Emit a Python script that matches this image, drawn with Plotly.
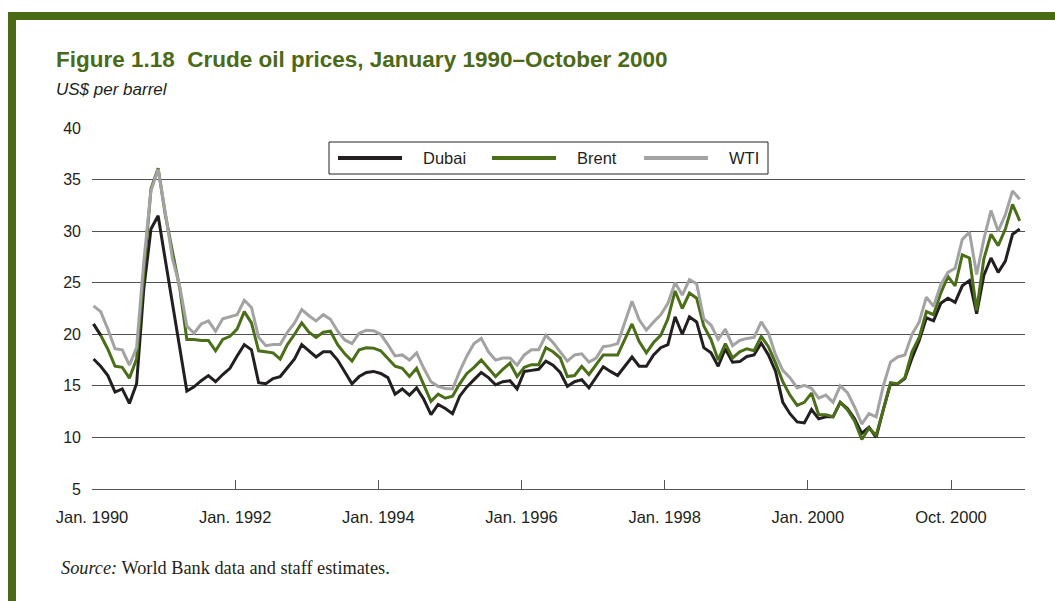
import plotly.graph_objects as go

# ---------------- data (US$ per barrel, monthly, Jan 1990 - Oct 2000) ----------------
dubai = [17.6, 16.9, 16.0, 14.4, 14.7, 13.3, 15.2, 24.4, 30.2, 31.5,
         27.2, 22.9, 18.6, 14.5, 14.9, 15.5, 16.0, 15.4, 16.1, 16.7,
         17.9, 19.0, 18.5, 15.3, 15.2, 15.7, 15.9, 16.8, 17.6, 19.0,
         18.4, 17.8, 18.3, 18.3, 17.5, 16.4, 15.2, 15.9, 16.3, 16.4,
         16.2, 15.8, 14.2, 14.7, 14.1, 14.8, 13.7, 12.2, 13.2, 12.8,
         12.3, 14.0, 14.9, 15.6, 16.3, 15.8, 15.1, 15.4, 15.5, 14.7,
         16.4, 16.5, 16.6, 17.4, 17.0, 16.3, 14.95, 15.4, 15.6, 14.8,
         15.8, 16.85, 16.4, 16.0, 16.9, 17.8, 16.9, 16.9, 18.0, 18.7,
         19.0, 21.7, 20.0, 21.7, 21.2, 18.7, 18.2, 16.9, 18.6, 17.3,
         17.35, 17.85, 18.0, 19.15, 18.0, 16.4, 13.4, 12.3, 11.5, 11.4,
         12.7, 11.8, 12.0, 12.0, 13.4, 12.8, 11.8, 10.4, 11.0, 10.0,
         12.7, 15.2, 15.2, 15.7, 17.7, 19.4, 21.6, 21.3, 23.0, 23.5,
         23.1, 24.7, 25.2, 22.0, 25.7, 27.4, 26.0, 27.1, 29.7, 30.2]

brent = [21.0, 19.9, 18.55, 16.9, 16.8, 15.75, 17.6, 26.0, 34.1, 36.1,
         31.6, 28.0, 24.5, 19.5, 19.5, 19.4, 19.4, 18.4, 19.5, 19.8,
         20.5, 22.2, 21.1, 18.4, 18.3, 18.2, 17.6, 19.0, 20.0, 21.1,
         20.2, 19.7, 20.2, 20.3, 19.0, 18.1, 17.4, 18.5, 18.7, 18.65,
         18.4, 17.6, 16.9, 16.7, 15.9, 16.7, 15.1, 13.5, 14.2, 13.8,
         14.0, 15.2, 16.2, 16.8, 17.5, 16.7, 15.9, 16.6, 17.2, 15.9,
         16.8, 17.05, 17.05, 18.7, 18.3, 17.7, 15.9, 16.0, 16.9, 16.1,
         17.0, 18.0, 18.0, 18.0, 19.5, 21.0, 19.3, 18.2, 19.2, 19.9,
         21.5, 24.2, 22.5, 24.0, 23.5, 20.8, 19.5, 17.5, 19.1, 17.7,
         18.3, 18.6, 18.4, 19.8, 18.8, 17.2, 15.4, 14.1, 13.1, 13.4,
         14.3, 12.2, 12.2, 12.0, 13.4, 12.7, 11.6, 9.8, 10.9, 10.2,
         12.7, 15.3, 15.2, 15.8, 18.3, 19.7, 22.2, 21.9, 24.0, 25.6,
         24.7, 27.7, 27.4, 22.3, 27.3, 29.7, 28.6, 30.2, 32.6, 31.0]

wti = [22.75, 22.2, 20.5, 18.6, 18.5, 17.0, 18.7, 27.0, 33.9, 36.0,
       31.8, 27.3, 24.7, 20.8, 20.1, 21.0, 21.3, 20.3, 21.5, 21.7,
       21.9, 23.3, 22.6, 19.7, 18.9, 19.0, 19.0, 20.2, 21.1, 22.4,
       21.8, 21.3, 21.9, 21.45, 20.3, 19.45, 19.1, 20.1, 20.4, 20.35,
       20.0, 19.0, 17.9, 18.0, 17.5, 18.2, 16.7, 15.4, 14.95, 14.75,
       14.7, 16.4, 17.9, 19.1, 19.6, 18.3, 17.5, 17.7, 17.7, 17.0,
       18.0, 18.5, 18.5, 19.9, 19.2, 18.3, 17.4, 18.0, 18.1, 17.3,
       17.7, 18.8, 18.9, 19.1, 21.1, 23.2, 21.4, 20.4, 21.2, 21.9,
       23.0, 25.0, 23.8, 25.3, 24.9, 21.5, 20.9, 19.5, 20.5, 18.9,
       19.4, 19.6, 19.7, 21.2, 20.1, 18.0, 16.5, 15.8, 14.8, 15.05,
       14.75, 13.8, 14.1, 13.4, 15.0, 14.35, 12.95, 11.3, 12.3, 12.0,
       15.0, 17.3, 17.8, 18.0, 20.0, 21.2, 23.6, 22.7, 24.8, 26.0,
       26.4, 29.2, 29.9, 25.8, 29.2, 32.0, 30.0, 31.6, 33.9, 33.1]

month_index = list(range(len(dubai)))

tick_labels = ["Jan. 1990", "Jan. 1992", "Jan. 1994", "Jan. 1996",
               "Jan. 1998", "Jan. 2000", "Oct. 2000"]

series_names = ["Dubai", "Brent", "WTI"]

# ---------------- styling ----------------
C_DUBAI = "#231f20"
C_BRENT = "#4b6f19"
C_WTI = "#a3a3a3"
C_FRAME = "#4a6a17"
C_TEXT = "#231f20"
SANS = "Liberation Sans, Arial, Helvetica, sans-serif"
SERIF = "Liberation Serif, Times New Roman, serif"

W, H = 1055, 601
L, R, T, B = 92, 30, 128, 112
PW, PH = W - L - R, H - T - B


def px(x):
    return (x - L) / PW


def py(y):
    return (H - B - y) / PH


fig = go.Figure()
fig.add_trace(go.Scatter(x=month_index, y=dubai, mode="lines", name=series_names[0],
                         line=dict(color=C_DUBAI, width=3)))
fig.add_trace(go.Scatter(x=month_index, y=brent, mode="lines", name=series_names[1],
                         line=dict(color=C_BRENT, width=3)))
# first Brent segment appears black in the original
fig.add_trace(go.Scatter(x=month_index[:2], y=brent[:2], mode="lines", showlegend=False,
                         line=dict(color=C_DUBAI, width=3)))
fig.add_trace(go.Scatter(x=month_index, y=wti, mode="lines", name=series_names[2],
                         line=dict(color=C_WTI, width=3)))

x0 = -0.21
step = 19.94
tickvals = [x0 + step * k for k in range(len(tick_labels))]

fig.update_layout(
    width=W, height=H,
    margin=dict(l=L, r=R, t=T, b=B, pad=0),
    paper_bgcolor="white", plot_bgcolor="white",
    showlegend=False,
    font=dict(family=SANS, color=C_TEXT),
    xaxis=dict(range=[x0, x0 + PW / 7.18], tickmode="array", tickvals=tickvals,
               ticktext=tick_labels, ticks="inside", ticklen=9, tickwidth=1,
               tickcolor="#555555", showline=True, linecolor="#555555", linewidth=1,
               showgrid=False, zeroline=False,
               tickfont=dict(family=SANS, size=16.5, color=C_TEXT),
               ticklabelstandoff=13),
    yaxis=dict(range=[5, 40], tick0=5, dtick=5, showgrid=True, gridcolor="#505050",
               gridwidth=1, zeroline=False, showline=False, ticks="",
               tickfont=dict(family=SANS, size=16, color=C_TEXT),
               ticklabelstandoff=10),
)

shapes = [
    # green frame
    dict(type="rect", xref="paper", yref="paper", x0=px(8), x1=px(1070), y0=py(12), y1=py(20),
         fillcolor=C_FRAME, line=dict(width=0), layer="above"),
    dict(type="rect", xref="paper", yref="paper", x0=px(8), x1=px(16), y0=py(12), y1=py(620),
         fillcolor=C_FRAME, line=dict(width=0), layer="above"),
    # legend box
    dict(type="rect", xref="paper", yref="paper", x0=px(329), x1=px(768), y0=py(142), y1=py(174),
         fillcolor="white", line=dict(color="#231f20", width=1), layer="above"),
]
legend_items = [(series_names[0], C_DUBAI, 338), (series_names[1], C_BRENT, 492),
                (series_names[2], C_WTI, 644)]
annotations = []
for name, col, lx in legend_items:
    shapes.append(dict(type="line", xref="paper", yref="paper", x0=px(lx), x1=px(lx + 64),
                       y0=py(158), y1=py(158), line=dict(color=col, width=4), layer="above"))
    annotations.append(dict(text=name, xref="paper", yref="paper", x=px(lx + 83), y=py(158),
                            xanchor="left", yanchor="middle", showarrow=False,
                            font=dict(family=SANS, size=16.5, color=C_TEXT)))

annotations += [
    dict(text="<b>Figure 1.18\u00a0\u00a0Crude oil prices, January 1990\u2013October 2000</b>",
         xref="paper", yref="paper", x=px(54), y=py(59), xanchor="left", yanchor="middle",
         showarrow=False, font=dict(family=SANS, size=22.5, color=C_FRAME)),
    dict(text="<i>US$ per barrel</i>", xref="paper", yref="paper", x=px(54), y=py(90),
         xanchor="left", yanchor="middle", showarrow=False,
         font=dict(family=SANS, size=17, color=C_TEXT)),
    dict(text="<i>Source:</i> World Bank data and staff estimates.", xref="paper", yref="paper",
         x=px(59), y=py(568), xanchor="left", yanchor="middle", showarrow=False,
         font=dict(family=SERIF, size=18.3, color=C_TEXT)),
]
fig.update_layout(shapes=shapes, annotations=annotations)

fig.write_html("out.html", config={"displayModeBar": False},
               post_script="document.body.style.margin='0';")
